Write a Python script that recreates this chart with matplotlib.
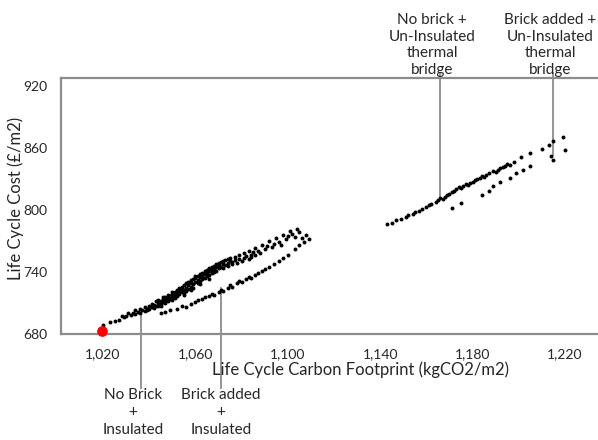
import numpy as np
import matplotlib
matplotlib.use('Agg')
from matplotlib import pyplot as plt

plt.rcParams['font.family'] = ['Lato', 'DejaVu Sans']

# no brick + insulated (upper band)
nbi_x = [1020, 1023, 1025, 1027, 1029, 1030, 1032, 1033, 1034, 1035, 1036, 1037, 1038, 1039,
         1040, 1040, 1041, 1042, 1042, 1043, 1044, 1044, 1045, 1045, 1046, 1046, 1047, 1047,
         1048, 1048, 1049, 1049, 1050, 1050, 1051, 1051, 1052, 1052, 1053, 1053, 1054, 1054,
         1055, 1055, 1056, 1056, 1057, 1057, 1058, 1058, 1059, 1059, 1060, 1060, 1061, 1061,
         1062, 1062, 1063, 1063, 1064, 1064, 1065, 1065, 1066, 1066, 1067, 1067, 1068, 1068,
         1069, 1069, 1070, 1070, 1071, 1072, 1072, 1073, 1074, 1074, 1075, 1076, 1076, 1077,
         1078, 1079, 1080, 1081, 1082, 1083, 1084, 1085, 1087, 1088, 1090, 1091, 1093, 1094,
         1096, 1097, 1099, 1100, 1102, 1103, 1105,
         1028, 1031, 1034, 1036, 1038, 1039, 1041, 1043, 1044, 1046, 1047, 1048, 1050, 1051,
         1052, 1053, 1054, 1055, 1056, 1057, 1058, 1059, 1060, 1061, 1062, 1063, 1064, 1065,
         1066, 1067, 1068, 1069, 1070, 1071, 1072, 1073, 1074, 1075, 1077, 1079, 1081, 1083,
         1086, 1089, 1092, 1095, 1098, 1101, 1104, 1108, 1106, 1086, 1084, 1055, 1050, 1045,
         1058, 1062, 1066]
nbi_y = [689, 692, 693, 694, 696, 697, 698, 700, 699, 701, 700, 703, 702, 704,
         707, 704, 706, 708, 705, 707, 710, 707, 712, 709, 711, 714, 713, 710,
         715, 712, 717, 714, 716, 719, 715, 718, 720, 717, 722, 719, 721, 724,
         720, 723, 725, 722, 727, 724, 726, 729, 725, 728, 730, 734, 729, 732,
         735, 731, 733, 736, 738, 734, 736, 739, 737, 741, 739, 742, 740, 743,
         745, 741, 744, 747, 745, 748, 744, 747, 749, 746, 751, 748, 750, 752,
         749, 753, 751, 754, 756, 753, 757, 759, 760, 758, 762, 765, 764, 767,
         769, 766, 772, 775, 777, 774, 779,
         697, 700, 703, 704, 706, 703, 709, 712, 713, 716, 716, 718, 721, 721,
         723, 725, 726, 727, 729, 730, 732, 733, 736, 736, 738, 739, 741, 742,
         744, 745, 746, 748, 749, 750, 751, 752, 753, 754, 755, 757, 758, 760,
         763, 766, 770, 773, 776, 780, 782, 776, 773, 757, 755, 718, 713, 707,
         723, 728, 733]

# brick added + insulated (lower band)
bai_x = [1045, 1047, 1049, 1052, 1054, 1056, 1058, 1060, 1061, 1063, 1064, 1066, 1067, 1068,
         1070, 1071, 1072, 1074, 1075, 1076, 1078, 1079, 1080, 1082, 1083, 1084, 1086, 1087,
         1089, 1090, 1092, 1094, 1096, 1098, 1100, 1103, 1105, 1107, 1109]
bai_y = [700, 701, 703, 704, 707, 706, 709, 711, 713, 714, 716, 717, 719, 718,
         721, 723, 722, 725, 727, 726, 729, 731, 730, 733, 735, 734, 737, 739,
         741, 743, 745, 748, 751, 754, 757, 762, 766, 769, 772]

# no brick + un-insulated thermal bridge
nbu_x = [1143, 1145, 1147, 1149, 1151, 1152, 1154, 1155, 1157, 1158, 1160, 1161, 1162, 1164,
         1165, 1166, 1167, 1168, 1169, 1170, 1171, 1172, 1173, 1174, 1175, 1176, 1177, 1178,
         1179, 1180, 1181, 1182, 1183, 1184, 1185, 1186, 1187, 1189, 1190, 1191, 1192, 1193,
         1194, 1195, 1196, 1198, 1201, 1205, 1210, 1213, 1215, 1219]
nbu_y = [787, 788, 790, 791, 793, 795, 796, 798, 799, 801, 803, 805, 806, 808,
         810, 812, 811, 813, 815, 816, 818, 819, 820, 822, 821, 823, 825, 824,
         826, 827, 829, 830, 831, 833, 832, 834, 836, 838, 837, 839, 841, 842,
         843, 845, 844, 847, 851, 855, 859, 863, 867, 871]

# brick added + un-insulated thermal bridge
bau_x = [1171, 1175, 1184, 1187, 1189, 1192, 1196, 1199, 1202, 1205, 1214, 1215, 1220]
bau_y = [802, 807, 815, 819, 823, 827, 831, 836, 839, 843, 852, 849, 858]

best_x = [1019.5]
best_y = [682.5]

fig = plt.figure(figsize=(5.98, 4.40), dpi=100)
ax = fig.add_axes([61 / 598, 1 - 334 / 440, 537 / 598, 256 / 440])

for xs, ys in [(nbi_x, nbi_y), (bai_x, bai_y), (nbu_x, nbu_y), (bau_x, bau_y)]:
    ax.scatter(xs, ys, s=8, color='black', marker='o', linewidths=0, zorder=3)
ax.scatter(best_x, best_y, s=45, color='red', zorder=4, clip_on=False)

ax.set_xlim(1001.8, 1234.3)
ax.set_ylim(680, 928)
ax.set_xticks([1020, 1060, 1100, 1140, 1180, 1220])
ax.set_xticklabels(['1,020', '1,060', '1,100', '1,140', '1,180', '1,220'])
ax.set_yticks([680, 740, 800, 860, 920])
ax.tick_params(length=0, labelsize=10, colors='#262626', pad=10)

for s in ['left', 'bottom', 'top']:
    ax.spines[s].set_color('#8c8c8c')
    ax.spines[s].set_linewidth(1.6)
ax.spines['right'].set_visible(False)

fig.text(360 / 598, 1 - 370 / 440, 'Life Cycle Carbon Footprint (kgCO2/m2)',
         ha='center', va='center', fontsize=12, color='#262626')
fig.text(16 / 598, 1 - 198 / 440, 'Life Cycle Cost (£/m2)', rotation=90,
         ha='center', va='center', fontsize=12, color='#262626')

# callout lines + labels
line_kw = dict(color='#8c8c8c', lw=1.3, clip_on=False, zorder=2)
ax.plot([1036.5, 1036.5], [700, 627.5], **line_kw)
ax.plot([1071, 1071], [724.5, 627.5], **line_kw)
ax.plot([1166, 1166], [813, 933], **line_kw)
ax.plot([1214.8, 1214.8], [853, 933], **line_kw)

txt_kw = dict(ha='center', va='top', fontsize=11, color='#262626', linespacing=1.3,
              transform=fig.transFigure)
fig.text(133 / 598, 1 - 388 / 440, 'No Brick\n+\nInsulated', **txt_kw)
fig.text(221 / 598, 1 - 388 / 440, 'Brick added\n+\nInsulated', **txt_kw)
txt_kw['va'] = 'bottom'
txt_kw['linespacing'] = 1.25
fig.text(432 / 598, 1 - 77 / 440, 'No brick +\nUn-Insulated\nthermal\nbridge', **txt_kw)
fig.text(550 / 598, 1 - 77 / 440, 'Brick added +\nUn-Insulated\nthermal\nbridge', **txt_kw)

fig.savefig('out.png', dpi=100)
